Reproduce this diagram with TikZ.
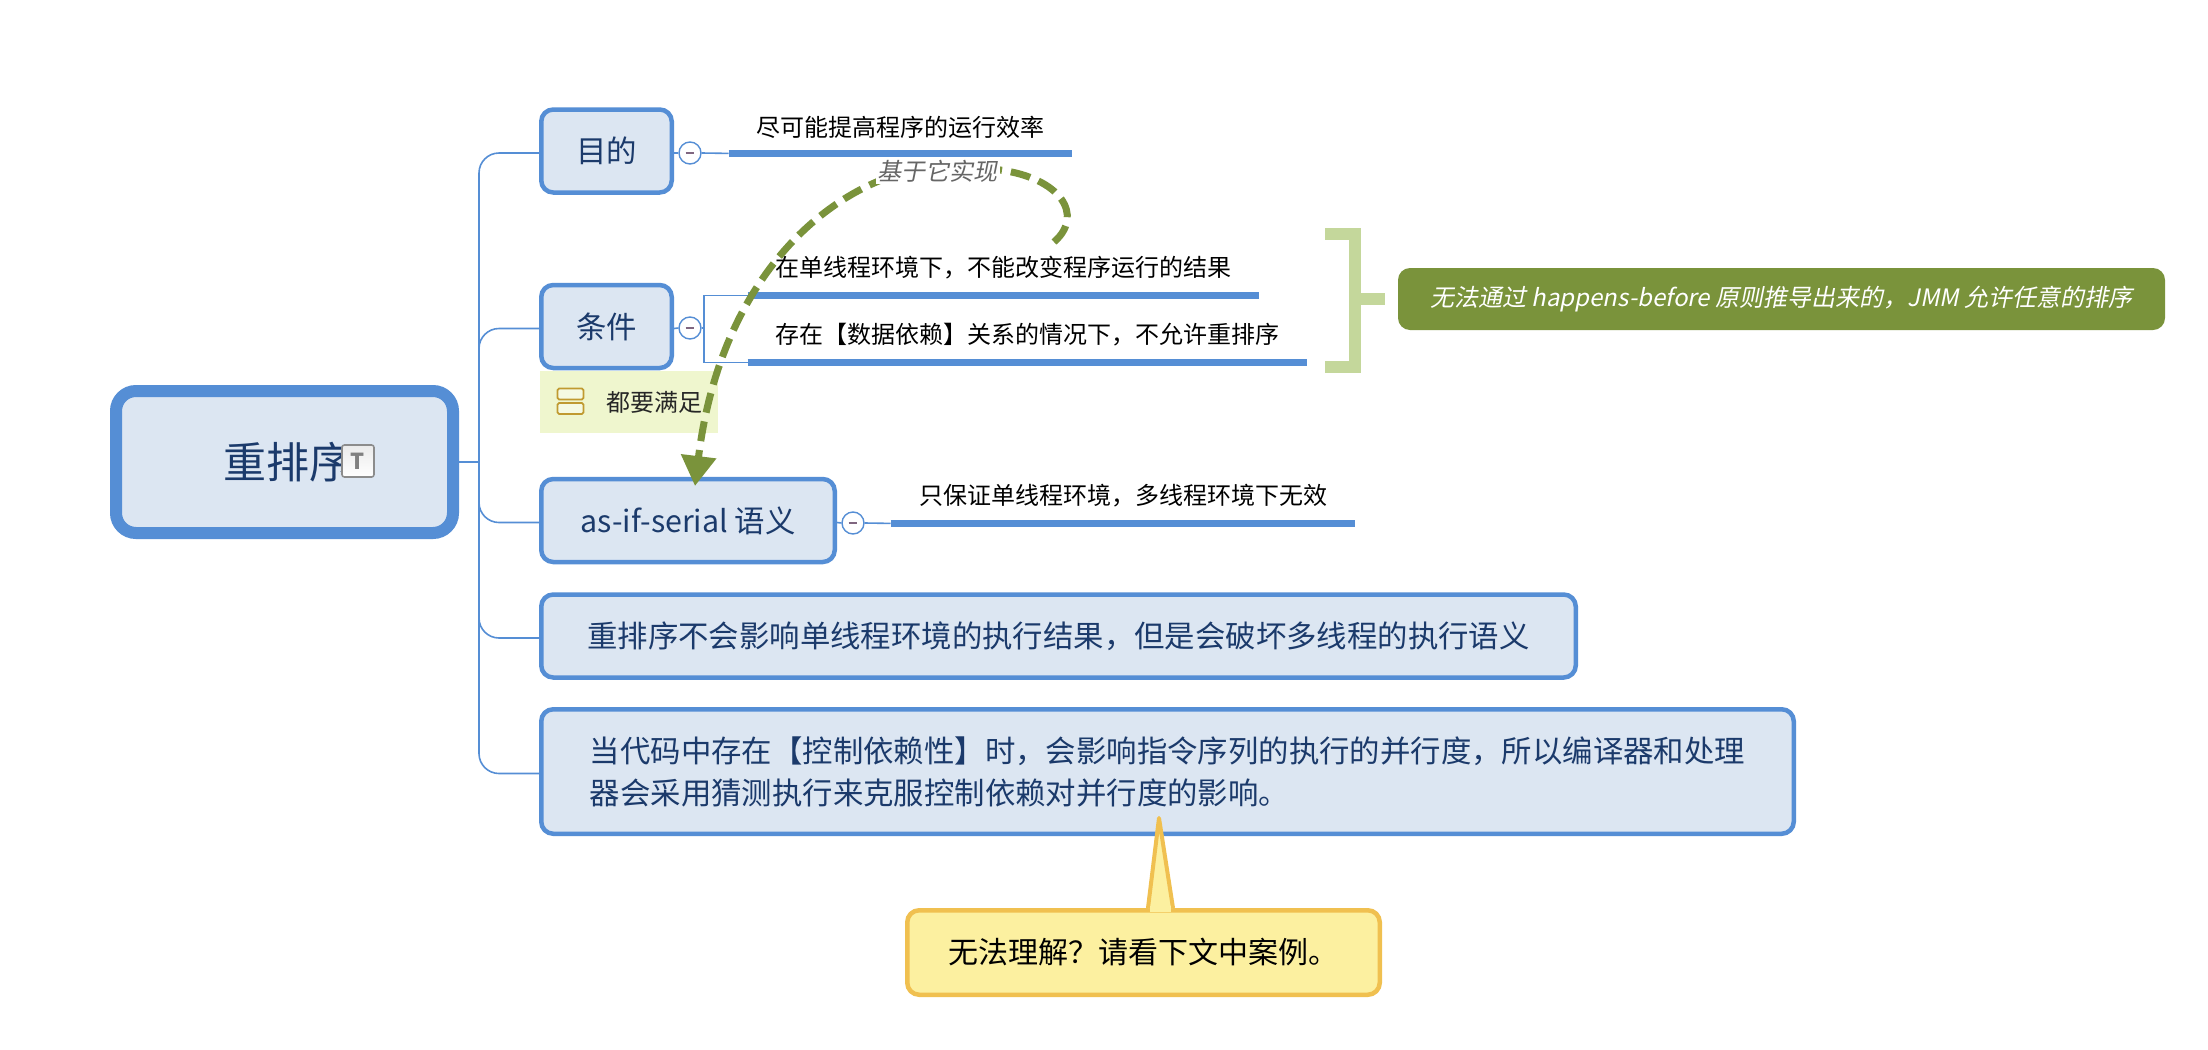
\documentclass[tikz,border=0pt]{standalone}
\usepackage{fontspec}
\setmainfont{Noto Sans CJK SC}
\newfontfamily\slantfont[FakeSlant=0.2]{Noto Sans CJK SC}
\usetikzlibrary{arrows.meta,calc}
\definecolor{topicblue}{HTML}{558ED5}
\definecolor{topicfill}{HTML}{DCE6F2}
\definecolor{topictext}{HTML}{1B3A6B}
\definecolor{olive}{HTML}{7A933B}
\definecolor{paleolive}{HTML}{C4D79B}
\definecolor{notefill}{HTML}{EFF6CE}
\definecolor{calloutfill}{HTML}{FCF0A0}
\definecolor{calloutline}{HTML}{F0C050}
\definecolor{goldline}{HTML}{C09A30}
\tikzset{
  x=0.5pt,y=-0.5pt,
  rootbox/.style={draw=topicblue,fill=topicfill,line width=6pt,rounded corners=10pt,inner sep=0pt,
    minimum width=168.5pt,minimum height=71pt,text=topictext,font=\fontsize{21.5pt}{26pt}\selectfont},
  topicbox/.style={draw=topicblue,fill=topicfill,line width=2.25pt,rounded corners=6pt,inner sep=0pt,
    minimum height=41.5pt,text=topictext,align=left,font=\fontsize{15.2pt}{21pt}\selectfont},
  subtopic/.style={inner sep=0pt,font=\fontsize{12pt}{14pt}\selectfont,text=black},
  subline/.style={draw=topicblue,line width=3.5pt},
  conn/.style={draw=topicblue,line width=0.8pt},
  collapse/.style={circle,draw=topicblue,fill=white,line width=0.7pt,minimum size=11pt,inner sep=0pt},
  collapsebar/.style={draw=gray!80!violet,line width=0.8pt},
  notebox/.style={fill=notefill,inner sep=0pt,minimum width=89pt,minimum height=31pt,
    font=\fontsize{12pt}{14pt}\selectfont,text=black!85},
  goldbar/.style={draw=goldline,fill=notefill!60!white,line width=0.9pt,rounded corners=0.8pt},
  summarybox/.style={fill=olive,rounded corners=6pt,inner sep=0pt,minimum width=383.5pt,minimum height=31pt,
    text=white,font=\slantfont\fontsize{12pt}{14pt}\selectfont},
  bracket/.style={draw=paleolive,line width=6pt},
  calloutbox/.style={draw=calloutline,fill=calloutfill,line width=2.25pt,rounded corners=6pt,inner sep=0pt,
    minimum width=236.25pt,minimum height=42.25pt,text=black,font=\fontsize{15pt}{18pt}\selectfont},
  relation/.style={draw=olive,line width=3.5pt,dash pattern=on 10pt off 4.5pt,
    -{Triangle[length=15pt,width=17pt,fill=olive]}},
  rellabel/.style={fill=white,inner sep=1pt,text=black!60,font=\slantfont\fontsize{12pt}{14pt}\selectfont},
  ticon/.style={draw=black!45,line width=0.8pt,rounded corners=1.2pt,top color=black!8,bottom color=white,
    minimum size=16pt,inner sep=0pt,text=black!50,font=\bfseries\fontsize{11pt}{12pt}\selectfont}
}
\begin{document}
\begin{tikzpicture}
\useasboundingbox (0,0) rectangle (2208,1050);
\fill[white] (0,0) rectangle (2208,1050);

% root and topics
\node[rootbox] (root) at (284.5,462) {\hspace{3pt}重排序\hspace{23pt}};
\node[ticon] (ticon) at (358,461) {T};
\node[topicbox,minimum width=65.25pt] (goal) at (606.5,151) {\raisebox{-1.5pt}{目的}};
\node[topicbox,minimum width=65.25pt] (cond) at (606.5,326.5) {\raisebox{-1.5pt}{条件}};
\node[topicbox,minimum width=146.75pt] (asif) at (688,520.5) {\raisebox{-1.5pt}{as-if-serial 语义}};
\node[topicbox,minimum width=517.25pt] (four) at (1058.5,636) {\raisebox{-1.5pt}{重排序不会影响单线程环境的执行结果，但是会破坏多线程的执行语义}};
\node[topicbox,minimum width=626.25pt,minimum height=62.25pt] (five) at (1167.5,771.5)
  {当代码中存在【控制依赖性】时，会影响指令序列的执行的并行度，所以编译器和处理\\器会采用猜测执行来克服控制依赖对并行度的影响。\hspace{180pt}};

% trunk connectors
\coordinate (trunk) at (479,462);
\draw[conn] (root.east) -- (trunk);
\draw[conn,rounded corners=10pt] (trunk) |- ([yshift=-1pt]goal.west);
\draw[conn,rounded corners=10pt] (trunk) |- ([yshift=-1pt]cond.west);
\draw[conn,rounded corners=10pt] (trunk) |- ([yshift=-1pt]asif.west);
\draw[conn,rounded corners=10pt] (trunk) |- ([yshift=-1pt]four.west);
\draw[conn,rounded corners=10pt] (trunk) |- ([yshift=-1pt]five.west);

% subtopics
\node[subtopic,minimum width=171.5pt,minimum height=26pt] (s1) at (900.5,127) {尽可能提高程序的运行效率};
\node[subtopic,minimum width=255.5pt,minimum height=27pt] (s2) at (1003.5,268) {在单线程环境下，不能改变程序运行的结果};
\node[subtopic,minimum width=279.5pt,minimum height=27pt] (s3) at (1027.5,335) {存在【数据依赖】关系的情况下，不允许重排序};
\node[subtopic,minimum width=232pt,minimum height=27pt] (s4) at (1123,496) {只保证单线程环境，多线程环境下无效};
\foreach \n in {s1,s2,s3,s4} \draw[subline] (\n.south west) -- (\n.south east);

% collapse markers
\node[collapse] (c1) at (690,153) {};
\node[collapse] (c2) at (690,328) {};
\node[collapse] (c3) at (853,523) {};
\begin{scope}[on background layer/.style={}]
\draw[conn] ([yshift=-1pt]goal.east) -- (c1.west);
\draw[conn] (c1.east) -- (s1.south west);
\draw[conn] ([yshift=-1pt]cond.east) -- (c2.west);
\draw[conn] ([yshift=-1pt]asif.east) -- (c3.west);
\draw[conn] (c3.east) -- (s4.south west);
\coordinate (bus) at (704,328);
\draw[conn] (c2.east) -- (bus);
\draw[conn] (s2.south west) -| (bus);
\draw[conn] (s3.south west) -| (bus);
\end{scope}
\foreach \n in {c1,c2,c3} \draw[collapsebar] ([xshift=-2.2pt]\n.center) -- ([xshift=2.2pt]\n.center);

% note
\node[notebox] (note) at (629,402) {\hspace{25pt}都要满足};
\node[goldbar,minimum width=13pt,minimum height=5.5pt,inner sep=0pt] (g1) at (570.5,394) {};
\node[goldbar,minimum width=13pt,minimum height=5.5pt,inner sep=0pt] (g2) at (570.5,408.5) {};

% summary bracket
\node[summarybox] (summary) at (1781.5,299) {无法通过 happens-before 原则推导出来的，JMM 允许任意的排序};
\coordinate (bt) at (1325,233.5);
\coordinate (bc) at (1355,233.5);
\coordinate (bd) at (1355,366.5);
\coordinate (bb) at (1325,366.5);
\coordinate (bm) at (1355,299);
\coordinate (be) at (1385,299);
\draw[bracket] (bt) -- (bc) -- (bd) -- (bb);
\draw[bracket] (bm) -- (be);

% relation
\coordinate (relA) at (1054,242);
\coordinate (relB) at (1000,170);
\coordinate (relC) at (695,486);
\draw[relation] (relA) .. controls (1085,215) and (1060,178) .. (relB)
  .. controls (880,140) and (725,240) .. (relC);
\node[rellabel] (rl) at (937.5,171) {基于它实现};

% callout
\node[calloutbox] (callout) at (1143.5,952.5) {无法理解？请看下文中案例。\hspace{9pt}};
\coordinate (tip) at (1159,818);
\coordinate (pl) at (1148,908);
\coordinate (pr) at (1173,908);
\draw[draw=calloutline,fill=calloutfill,line width=2pt,line join=round] (pl) -- (tip) -- (pr);
\fill[calloutfill] ([yshift=0pt]pl) ++(2,-2) rectangle ([shift={(-2,4)}]pr);
\end{tikzpicture}
\end{document}
